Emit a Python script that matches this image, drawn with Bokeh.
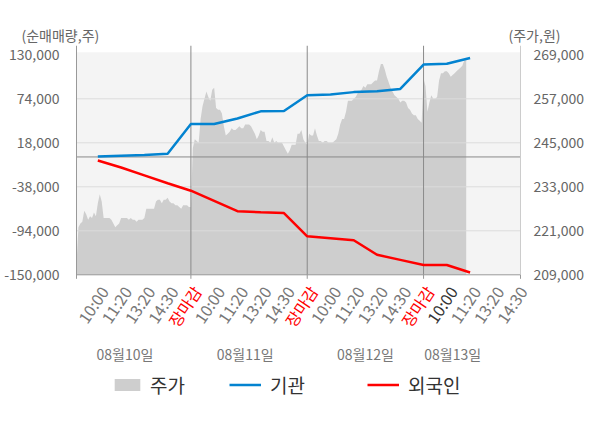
from bokeh.plotting import figure
from bokeh.layouts import column
from bokeh.models import (Range1d, LinearAxis, FixedTicker, NumeralTickFormatter,
                          BoxAnnotation, Legend, LegendItem)
from bokeh.core.properties import value
from bokeh.embed import file_html
from bokeh.resources import INLINE

FONT = "Noto Sans CJK KR"

# ---- data ----
# intraday price (원), one value per time slot, 60 slots per trading day
price_day1 = [212000, 222000, 223000, 223500, 226500, 225500, 224000, 225000, 224500, 226000,
              225000, 228500, 231000, 229000, 224500, 224500, 224500, 224500, 224000, 223000,
              222000, 222500, 223000, 224500, 224500, 224500, 224500, 224000, 224500, 224000,
              224000, 223500, 224000, 224000, 224000, 224500, 227000, 227000, 227000, 227000,
              227000, 229000, 229500, 229500, 228500, 229500, 229500, 230000, 229000, 228500,
              228500, 228000, 228000, 227500, 227000, 228000, 228000, 228000, 227500, 227500]
price_day2 = [243500, 246000, 245500, 245000, 251500, 255000, 257000, 259000, 257500, 256500,
              259500, 260000, 254500, 254000, 254000, 253000, 249500, 247000, 247500, 248000,
              249000, 248500, 248500, 249000, 249500, 249000, 249000, 250000, 250000, 250000,
              249500, 248500, 247500, 246000, 247000, 248500, 248000, 248000, 245500, 245500,
              245000, 246500, 245000, 245500, 245000, 245000, 245000, 244000, 243000, 242000,
              243000, 244500, 244500, 244500, 247500, 247500, 248500, 246000, 245000, 244500]
price_day3 = [247500, 247000, 247000, 249000, 247000, 245500, 245500, 245000, 245500, 245500,
              245000, 245000, 245000, 245500, 246000, 247500, 250000, 251500, 251500, 253500,
              256500, 256500, 256500, 257000, 257500, 258500, 259000, 259500, 260500, 260000,
              261000, 261000, 261000, 261500, 262000, 262000, 264500, 266500, 266500, 265000,
              263000, 261500, 260000, 259000, 258000, 257500, 257000, 256000, 256500, 256500,
              256000, 254500, 254000, 253000, 252500, 252500, 251500, 251000, 250500, 262500]
price_day4 = [260500, 253500, 256000, 258000, 257000, 257000, 257500, 262000, 264000, 264000,
              264500, 264500, 264000, 263000, 263500, 264000, 264500, 265000, 265500, 266000,
              267500, 267500]
price = price_day1 + price_day2 + price_day3 + price_day4

# cumulative net buying (주), sampled at every time label
institution = [500, 1500, 2500, 4000, 42000, 42000, 49000, 58000, 58500, 78500,
               79500, 82500, 83500, 86500, 117500, 118500, 126000]
foreigner = [-4500, -13500, -23500, -33500, -43000, -56000, -69000, -70500, -71500, -101000,
             -103500, -106000, -124500, -131000, -137500, -137500, -147000]

days = ["08월10일", "08월11일", "08월12일", "08월13일"]
time_labels = ["10:00", "11:20", "13:20", "14:30", "장마감"] * 3 + ["10:00", "11:20", "13:20", "14:30"]
left_ticks = [-150000, -94000, -38000, 18000, 74000, 130000]
right_ticks = [209000, 221000, 233000, 245000, 257000, 269000]

# ---- layout constants (page pixels) ----
W, H = 600, 428
PLOT_L, PLOT_R = 76, 520           # page x of the plot area edges
EXT = 7                            # frame reaches a little past the plot area on each side
TOP_H = 45                         # strip holding the two axis titles
TICK_TOP, TICK_BOT = 54.3, 274.3   # page y of the highest / lowest value tick
BG_TOP = 51.7
SLOTS_PER_DAY = 60
LABEL_STEP = 12
X_START, X_END = 1, 230
GRAY_TXT = "#666666"
AXIS_GRAY = "#999999"

left_span = left_ticks[-1] - left_ticks[0]
right_span = right_ticks[-1] - right_ticks[0]
tick_px = TICK_BOT - TICK_TOP
l_per_px = left_span / tick_px
r_per_px = right_span / tick_px
ppx = (PLOT_R - PLOT_L) / (X_END - X_START)


def l_at(y):   # left-axis value at page y
    return left_ticks[0] + (TICK_BOT - y) * l_per_px


def r_at(y):
    return right_ticks[0] + (TICK_BOT - y) * r_per_px


def px_at(y):  # pixel-range value at page y
    return H - y


# ================= main chart (frame runs to the bottom of the page) =================
MAIN_H = H - TOP_H
p = figure(width=W, height=MAIN_H, output_backend="svg", toolbar_location=None, title=None,
           x_range=Range1d(X_START - EXT / ppx, X_END + EXT / ppx),
           y_range=Range1d(l_at(H), l_at(TOP_H)),
           x_axis_location=None, frame_align=False,
           min_border_left=PLOT_L - EXT, min_border_right=W - PLOT_R - EXT,
           min_border_top=0, min_border_bottom=0)
p.extra_y_ranges = {"price": Range1d(r_at(H), r_at(TOP_H)), "px": Range1d(0, MAIN_H)}
p.outline_line_color = None
p.background_fill_color = "white"
p.border_fill_color = "white"
p.xgrid.visible = False
p.ygrid.visible = False

p.add_layout(BoxAnnotation(left=X_START, right=X_END, top=l_at(BG_TOP), bottom=left_ticks[0],
                           fill_color="#f4f4f4", fill_alpha=1, line_color=None, level="image"))

px = list(range(1, len(price) + 1))
area = p.varea(x=px, y1=right_ticks[0], y2=price, y_range_name="price", fill_color="#cecece")

gy = left_ticks[1:-1]
p.segment(x0=[X_START] * len(gy), x1=[X_END] * len(gy), y0=gy, y1=gy,
          line_color="#dcdcdc", line_width=1)
p.segment(x0=[X_START], x1=[X_END], y0=[0], y1=[0], line_color="#8a8a8a", line_width=1)
sep = [SLOTS_PER_DAY * (i + 1) for i in range(len(days) - 1)]
p.segment(x0=sep, x1=sep, y0=[left_ticks[0]] * len(sep), y1=[p.y_range.end] * len(sep),
          line_color="#8a8a8a", line_width=1)

# axis frame lines and day ticks
y_tick_end = l_at(TICK_BOT + 4)
p.segment(x0=[X_START], x1=[X_END], y0=[left_ticks[0]], y1=[left_ticks[0]],
          line_color=AXIS_GRAY, line_width=1)
p.segment(x0=[X_START], x1=[X_START], y0=[y_tick_end], y1=[p.y_range.end],
          line_color=AXIS_GRAY, line_width=1)
p.segment(x0=[X_END], x1=[X_END], y0=[left_ticks[0]], y1=[p.y_range.end],
          line_color="#cccccc", line_width=1)
p.segment(x0=[X_END], x1=[X_END], y0=[y_tick_end], y1=[left_ticks[0]],
          line_color=AXIS_GRAY, line_width=1)
p.segment(x0=sep, x1=sep, y0=[y_tick_end] * len(sep), y1=[left_ticks[0]] * len(sep),
          line_color=AXIS_GRAY, line_width=1)

lx = [LABEL_STEP * (i + 1) for i in range(len(institution))]
r_inst = p.line(x=lx, y=institution, line_color="#0383d0", line_width=2.5)
r_for = p.line(x=lx, y=foreigner, line_color="#ff0000", line_width=2.5)

ax = p.yaxis[0]
ax.ticker = FixedTicker(ticks=left_ticks)
ax.formatter = NumeralTickFormatter(format="0,0")
ax.major_tick_line_color = None
ax.minor_tick_line_color = None
ax.axis_line_color = None
ax.major_label_standoff = 11 - EXT
ax.major_label_text_font = FONT
ax.major_label_text_font_size = "14px"
ax.major_label_text_color = GRAY_TXT

rax = LinearAxis(y_range_name="price", ticker=FixedTicker(ticks=right_ticks),
                 formatter=NumeralTickFormatter(format="0,0"))
rax.major_tick_line_color = None
rax.minor_tick_line_color = None
rax.axis_line_color = None
rax.major_label_standoff = 0
rax.major_label_text_font = FONT
rax.major_label_text_font_size = "14px"
rax.major_label_text_color = GRAY_TXT
p.add_layout(rax, "right")

# rotated time labels
tl_x = [LABEL_STEP * (i + 1) for i in range(len(time_labels))]
tl_col = []
for i, t in enumerate(time_labels):
    if t == "장마감":
        tl_col.append("#ff0000")
    elif i == 15:
        tl_col.append("#333333")
    else:
        tl_col.append("#777777")
p.text(x=tl_x, y=[px_at(287.5)] * len(tl_x), y_range_name="px", text=time_labels, angle=0.98,
       text_align="right", text_baseline="middle", text_color=tl_col,
       text_font=value(FONT), text_font_size="16px", x_offset=6)

# date labels
day_x = [26, 88, 150, 195]
p.text(x=day_x, y=[px_at(353)] * len(days), y_range_name="px", text=days, text_align="center",
       text_baseline="middle", text_color="#777777", text_font=value(FONT),
       text_font_size="14px")


def add_leg(label, rend, x, standoff):
    leg = Legend(items=[LegendItem(label=label, renderers=[rend])], location=(x, 30),
                 orientation="horizontal", glyph_width=32, glyph_height=15,
                 label_standoff=standoff, label_text_font=FONT, label_text_font_size="19px",
                 label_text_color="#333333", padding=0, margin=0, spacing=0,
                 border_line_color=None, background_fill_alpha=0)
    p.add_layout(leg)


add_leg("주가", area, 35 + EXT, 7)
add_leg("기관", r_inst, 153 + EXT, 9)
add_leg("외국인", r_for, 291 + EXT, 9)

# ================= top strip: axis titles =================
top = figure(width=W, height=TOP_H, output_backend="svg", toolbar_location=None, title=None,
             x_range=Range1d(0, W), y_range=Range1d(0, TOP_H), x_axis_location=None,
             y_axis_location=None, min_border=0, frame_align=False)
top.outline_line_color = None
top.xgrid.visible = False
top.ygrid.visible = False
top.text(x=[21, 508], y=[TOP_H - 34, TOP_H - 34], text=["(순매매량,주)", "(주가,원)"],
         text_align="left", text_baseline="middle", text_color=GRAY_TXT,
         text_font=value(FONT), text_font_size="14px")

layout = column(top, p, spacing=0)
open("out.html", "w").write(file_html(layout, INLINE))
